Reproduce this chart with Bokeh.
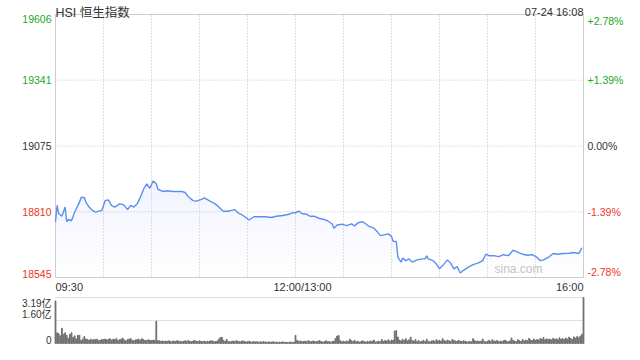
import numpy as np
from bokeh.plotting import figure
from bokeh.models import Range1d
from bokeh.core.properties import value
from bokeh.embed import file_html
from bokeh.resources import INLINE

# ---------------- data ----------------
title_text = "HSI 恒生指数"
stamp_text = "07-24 16:08"
watermark = "sina.com"
prev_close = 19075
price_ticks = [19606, 19341, 19075, 18810, 18545]
pct_labels = ["+2.78%", "+1.39%", "0.00%", "-1.39%", "-2.78%"]
time_ticks = [0, 150, 330]
time_labels = ["09:30", "12:00/13:00", "16:00"]
vol_ticks = [3.19, 1.60, 0]
vol_labels = ["3.19亿", "1.60亿", "0"]

minutes = [0, 1, 2, 4, 6, 7, 8, 10, 12, 15, 16, 18, 19, 21, 23, 25, 27, 29, 31, 33,
           35, 37, 40, 42, 43, 45, 47, 49, 51, 53, 55, 57, 59, 61, 63, 64, 67, 70, 73, 76,
           79, 81, 83, 86, 88, 92, 93, 96, 99, 101, 103, 105, 108, 110, 112, 114, 116, 119, 121, 124,
           127, 131, 135, 138, 142, 146, 148, 150, 152, 154, 157, 159, 162, 165, 168, 170, 173, 174, 176, 179,
           182, 185, 187, 189, 192, 194, 196, 199, 201, 203, 206, 208, 210, 211, 213, 214, 216, 217, 219, 221,
           223, 226, 229, 231, 232, 233, 236, 238, 240, 242, 245, 247, 249, 251, 253, 255, 258, 261, 264, 267,
           269, 271, 274, 277, 280, 283, 286, 289, 292, 295, 298, 301, 303, 305, 308, 311, 314, 317, 321, 324,
           327, 328, 329]
prices = [18770, 18836, 18803, 18792, 18829, 18770, 18779, 18774, 18809, 18849, 18868, 18868, 18849, 18829, 18816, 18809, 18813, 18816, 18855, 18858,
          18836, 18829, 18842, 18840, 18836, 18819, 18836, 18829, 18842, 18868, 18901, 18923, 18905, 18934, 18923, 18901, 18892, 18895, 18892, 18892,
          18892, 18888, 18871, 18855, 18853, 18862, 18866, 18855, 18845, 18836, 18823, 18812, 18812, 18816, 18819, 18806, 18800, 18787, 18777, 18790,
          18790, 18790, 18787, 18792, 18795, 18800, 18806, 18806, 18813, 18803, 18800, 18792, 18792, 18783, 18779, 18774, 18761, 18744, 18757, 18760,
          18754, 18761, 18753, 18766, 18770, 18761, 18751, 18744, 18731, 18714, 18718, 18721, 18711, 18691, 18690, 18626, 18607, 18624, 18613, 18620,
          18607, 18616, 18620, 18620, 18633, 18620, 18613, 18600, 18580, 18593, 18616, 18603, 18580, 18589, 18563, 18574, 18587, 18597, 18603, 18613,
          18639, 18633, 18633, 18629, 18637, 18633, 18655, 18646, 18639, 18635, 18637, 18626, 18613, 18616, 18626, 18642, 18639, 18642, 18643, 18646,
          18642, 18652, 18665]

volumes = [2.95, 0.74, 0.68, 0.53, 1.06, 0.64, 0.74, 0.57, 0.36, 0.64,
           0.74, 0.43, 0.53, 0.32, 0.57, 0.57, 0.21, 0.32, 0.49, 0.32,
           0.28, 0.22, 0.30, 0.25, 0.28, 0.26, 0.30, 0.20, 0.24, 0.28,
           0.27, 0.31, 0.26, 0.29, 0.33, 0.24, 0.30, 0.28, 0.35, 0.22,
           0.26, 0.30, 0.38, 0.25, 0.18, 0.27, 0.31, 0.34, 0.22, 0.19,
           0.25, 0.28, 0.30, 0.24, 0.33, 0.27, 0.22, 0.20, 0.26, 0.23,
           0.21, 0.24, 0.22, 1.55, 0.19, 0.21, 0.15, 0.18, 0.14, 0.17,
           0.15, 0.19, 0.13, 0.16, 0.18, 0.14, 0.20, 0.15, 0.17, 0.12,
           0.16, 0.19, 0.14, 0.21, 0.15, 0.13, 0.18, 0.22, 0.16, 0.14,
           0.19, 0.15, 0.13, 0.17, 0.12, 0.16, 0.14, 0.20, 0.18, 0.15,
           0.13, 0.17, 0.30, 0.41, 0.43, 0.22, 0.16, 0.28, 0.14, 0.12,
           0.15, 0.18, 0.13, 0.20, 0.16, 0.12, 0.14, 0.19, 0.15, 0.11,
           0.13, 0.16, 0.12, 0.10, 0.14, 0.11, 0.13, 0.09, 0.12, 0.10,
           0.14, 0.11, 0.08, 0.12, 0.10, 0.09, 0.13, 0.08, 0.11, 0.07,
           0.10, 0.09, 0.12, 0.08, 0.10, 0.07, 0.09, 0.11, 0.08, 0.10,
           0.57, 0.22, 0.16, 0.18, 0.13, 0.15, 0.17, 0.12, 0.20, 0.14,
           0.13, 0.18, 0.15, 0.12, 0.16, 0.21, 0.14, 0.11, 0.13, 0.19,
           0.12, 0.15, 0.10, 0.14, 0.17, 0.35, 0.52, 0.55, 0.20, 0.13,
           0.16, 0.12, 0.18, 0.14, 0.30, 0.19, 0.15, 0.22, 0.12, 0.16,
           0.10, 0.14, 0.19, 0.13, 0.11, 0.15, 0.12, 0.18, 0.16, 0.24,
           0.10, 0.13, 0.17, 0.12, 0.28, 0.15, 0.21, 0.18, 0.26, 0.16,
           0.24, 0.22, 0.87, 0.90, 0.45, 0.23, 0.19, 0.30, 0.22, 0.33,
           0.18, 0.26, 0.44, 0.20, 0.17, 0.28, 0.14, 0.20, 0.12, 0.16,
           0.23, 0.13, 0.30, 0.15, 0.12, 0.18, 0.20, 0.15, 0.26, 0.19,
           0.22, 0.17, 0.33, 0.20, 0.16, 0.24, 0.19, 0.14, 0.28, 0.21,
           0.18, 0.15, 0.22, 0.17, 0.14, 0.19, 0.16, 0.13, 0.11, 0.15,
           0.12, 0.34, 0.20, 0.14, 0.18, 0.13, 0.17, 0.31, 0.15, 0.12,
           0.16, 0.22, 0.13, 0.26, 0.18, 0.15, 0.21, 0.12, 0.17, 0.14,
           0.19, 0.24, 0.16, 0.13, 0.18, 0.38, 0.22, 0.17, 0.14, 0.26,
           0.20, 0.15, 0.28, 0.18, 0.24, 0.19, 0.36, 0.25, 0.21, 0.31,
           0.22, 0.28, 0.24, 0.35, 0.30, 0.42, 0.26, 0.33, 0.28, 0.31,
           0.25, 0.36, 0.29, 0.33, 0.27, 0.40, 0.30, 0.34, 0.28, 0.38,
           0.31, 0.44, 0.35, 0.29, 0.46, 0.37, 0.48, 0.40, 0.52, 0.64,
           3.19]
vol_minutes = list(range(len(volumes)))

# ---------------- layout (pixels) ----------------
W, H = 624, 344
FX0, FX1 = 55, 583          # price frame left/right
FY0, FY1 = 14, 277          # price frame top/bottom
VY0, VY1 = 297, 343         # volume top (max) / zero line

t_end = time_ticks[-1]
p_top, p_bot = price_ticks[0], price_ticks[-1]
v_top = vol_ticks[0]

ppx = (FX1 - FX0) / t_end
ppy = (FY1 - FY0) / (p_top - p_bot)
vpp = (VY1 - VY0) / v_top

p = figure(width=W, height=H, output_backend="svg", toolbar_location=None,
           x_axis_location=None, y_axis_location=None,
           x_range=Range1d(-FX0 / ppx, t_end + (W - FX1) / ppx),
           y_range=Range1d(p_bot - (H - FY1) / ppy, p_top + FY0 / ppy),
           min_border=0, outline_line_color=None, background_fill_color="white",
           border_fill_color="white")
p.grid.visible = False
p.extra_y_ranges = {"vol": Range1d(0 - (H - VY1) / vpp, v_top + VY0 / vpp)}

FONT = value("Liberation Sans, Noto Sans CJK SC")
GRID = "#c2c2c2"
GREEN = "#1da81d"
RED = "#ee3526"
DARK = "#333333"

def col(v):
    if v > prev_close:
        return GREEN
    if v < prev_close:
        return RED
    return DARK

# gradient area under the line
prices_arr = np.array(prices, dtype=float)
levels = np.linspace(p_bot, prices_arr.max(), 12, endpoint=False)
for lv in levels:
    p.varea(x=minutes, y1=np.minimum(lv, prices_arr), y2=prices_arr,
            fill_color="#4a8cf0", fill_alpha=0.009)

# grid lines (dotted)
vx = list(range(30, t_end, 30))
p.segment(x0=vx, x1=vx, y0=[p_bot] * len(vx), y1=[p_top] * len(vx),
          line_color=GRID, line_dash="1 2", line_width=1)
hy = price_ticks[1:-1]
p.segment(x0=[0] * len(hy), x1=[t_end] * len(hy), y0=hy, y1=hy,
          line_color=GRID, line_dash="1 2", line_width=1)
# frame border
p.quad(left=[0], right=[t_end], bottom=[p_bot], top=[p_top],
       fill_color=None, line_color="#cccccc", line_width=1)

# price line
p.line(minutes, prices, line_color="#5a8ff0", line_width=1.4)

# volume grid + bars
vg = vol_ticks[:-1]
p.segment(x0=[0] * len(vg), x1=[t_end] * len(vg), y0=vg, y1=vg,
          line_color="#bbbbbb", line_dash="1 1", line_width=1, y_range_name="vol")
p.vbar(x=vol_minutes, top=volumes, width=0.5, color="#707070", y_range_name="vol")

def txt(x, y, s, align, base, color=DARK, size="10.5px", xo=0, yo=0, yr="default"):
    p.text(x=x, y=y, text=s, text_align=align, text_baseline=base,
           text_color=color, text_font=FONT, text_font_size=size,
           x_offset=xo, y_offset=yo, y_range_name=yr)

# header texts
txt([0], [p_top], [title_text], "left", "alphabetic", size="12.5px", yo=-1.5)
txt([t_end], [p_top], [stamp_text], "right", "alphabetic", size="11px", yo=-2.5)

# price labels left / right
bases = ["top"] + ["middle"] * (len(price_ticks) - 2) + ["bottom"]
for v, pl, b in zip(price_ticks, pct_labels, bases):
    txt([0], [v], [str(v)], "right", b, color=col(v), xo=-4)
    txt([t_end], [v], [pl], "left", b, color=col(v), xo=4)

# time labels
txt([time_ticks[0]], [p_bot], [time_labels[0]], "left", "top", size="11px", yo=3)
txt([time_ticks[1]], [p_bot], [time_labels[1]], "center", "top", size="11px", xo=7, yo=3)
txt([time_ticks[2]], [p_bot], [time_labels[2]], "right", "top", size="11px", yo=3)

# watermark
txt([t_end], [p_bot], [watermark], "right", "bottom", color="#c4c4c4", size="12px", xo=-41, yo=-2)

# volume labels
vbases = ["top", "bottom", "bottom"]
for v, lab, b in zip(vol_ticks, vol_labels, vbases):
    txt([0], [v], [lab], "right", b, size="10px", xo=-4, yr="vol")

open("out.html", "w").write(file_html(p, INLINE))
